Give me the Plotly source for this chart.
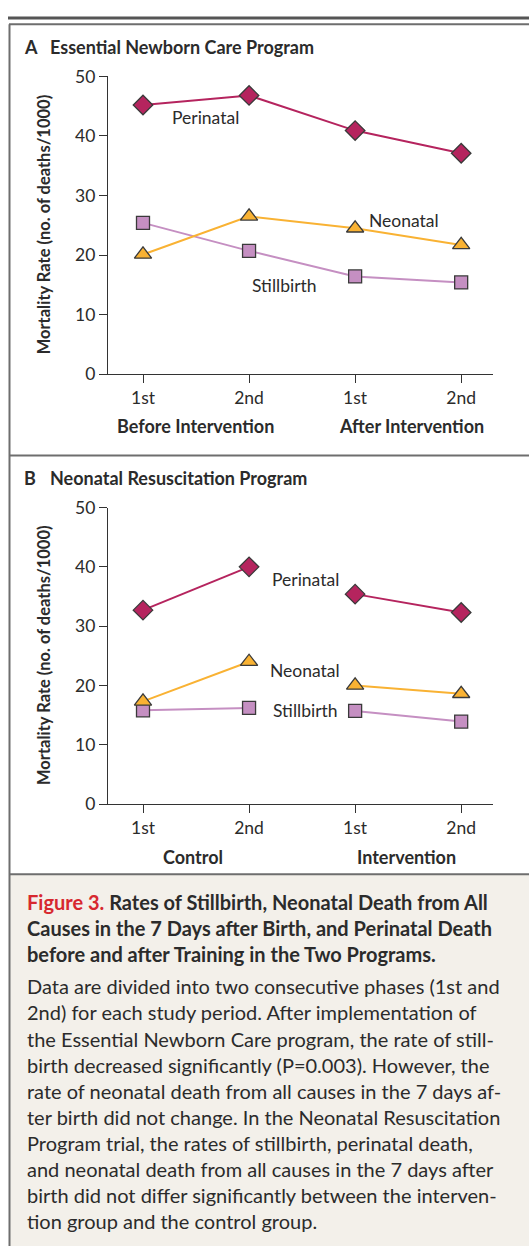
import plotly.graph_objects as go

# ---------------- data ----------------
phases = [0, 1, 2, 3]
tick_labels = ["1st", "2nd", "1st", "2nd"]

a_perinatal = [45.2, 46.8, 40.9, 37.1]
a_neonatal = [20.1, 26.5, 24.5, 21.7]
a_stillbirth = [25.4, 20.7, 16.4, 15.4]

b_perinatal = [32.7, 40.0, 35.4, 32.3]
b_neonatal = [17.3, 24.0, 20.0, 18.6]
b_stillbirth = [15.8, 16.2, 15.7, 13.9]

a_groups = ["Before Intervention", "After Intervention"]
b_groups = ["Control", "Intervention"]

W, H = 529, 1256
FONT = "Lato"
TXT = "#2b2b2b"

def fx(px):
    return px / W

def fy(py):
    return 1 - py / H

C_PER = "#b5245e"
C_NEO = "#f9b233"
C_STI = "#c58fc2"
EDGE = "#3a3a3a"

fig = go.Figure()

def add_series(vals, color, symbol, size, xa, ya, split=False):
    xs, ys = list(phases), list(vals)
    if split:  # panel B: control and intervention drawn as separate segments
        xs = xs[:2] + [None] + xs[2:]
        ys = ys[:2] + [None] + ys[2:]
    fig.add_trace(go.Scatter(
        x=xs, y=ys, mode="lines+markers", connectgaps=False,
        line=dict(color=color, width=2),
        marker=dict(symbol=symbol, size=size, color=color,
                    line=dict(color=EDGE, width=1.3)),
        xaxis=xa, yaxis=ya, showlegend=False, hoverinfo="skip"))

# Panel A
add_series(a_stillbirth, C_STI, "square", 13, "x", "y")
add_series(a_neonatal, C_NEO, "triangle-up", 15, "x", "y")
add_series(a_perinatal, C_PER, "diamond", 15, "x", "y")
# Panel B
add_series(b_stillbirth, C_STI, "square", 13, "x2", "y2", split=True)
add_series(b_neonatal, C_NEO, "triangle-up", 15, "x2", "y2", split=True)
add_series(b_perinatal, C_PER, "diamond", 15, "x2", "y2", split=True)

xrange = [-0.33, 3.30]
axis_common = dict(showgrid=False, zeroline=False, showline=True,
                   linecolor="#333", linewidth=1.3, ticks="outside",
                   ticklen=8, tickwidth=1.3, tickcolor="#333",
                   tickfont=dict(family=FONT, size=17.5, color=TXT))

fig.update_layout(
    width=W, height=H,
    margin=dict(l=0, r=0, t=0, b=0),
    paper_bgcolor="white", plot_bgcolor="rgba(0,0,0,0)",
    xaxis=dict(domain=[fx(108), fx(493)], range=xrange, anchor="y",
               tickvals=phases, ticktext=tick_labels, **axis_common),
    yaxis=dict(domain=[fy(369.3), fy(66.5)], range=[0, 50], anchor="x",
               tickvals=[0, 10, 20, 30, 40, 50], **axis_common),
    xaxis2=dict(domain=[fx(108), fx(493)], range=xrange, anchor="y2",
                tickvals=phases, ticktext=tick_labels, **axis_common),
    yaxis2=dict(domain=[fy(806.5), fy(505)], range=[0, 50], anchor="x2",
                tickvals=[0, 10, 20, 30, 40, 50], **axis_common),
)

shapes = []
# top heavy rule
shapes.append(dict(type="line", xref="paper", yref="paper",
                   x0=fx(8), x1=1, y0=fy(7), y1=fy(7),
                   line=dict(color="#555", width=3)))
# caption background
shapes.append(dict(type="rect", xref="paper", yref="paper",
                   x0=fx(9), x1=1, y0=0, y1=fy(878), layer="below",
                   fillcolor="#f3f0ea", line=dict(width=0)))
# frame lines
for py in [13.5, 452, 878]:
    shapes.append(dict(type="line", xref="paper", yref="paper",
                       x0=fx(9), x1=1, y0=fy(py), y1=fy(py),
                       line=dict(color="#6e6e6e", width=2)))
shapes.append(dict(type="line", xref="paper", yref="paper",
                   x0=fx(9.5), x1=fx(9.5), y0=0, y1=fy(13.5),
                   line=dict(color="#6e6e6e", width=2)))
fig.update_layout(shapes=shapes)

ann = []
def text(px, py, s, size=16, bold=False, color=TXT, xanchor="center",
         angle=0, family=FONT):
    ann.append(dict(x=fx(px), y=fy(py), xref="paper", yref="paper",
                    text=("<b>%s</b>" % s) if bold else s, showarrow=False,
                    xanchor=xanchor, yanchor="middle", textangle=angle,
                    font=dict(family=family, size=size, color=color)))

# panel titles
text(22, 37, "A", 18, True, xanchor="left")
text(48, 37, "Essential Newborn Care Program", 18, True, xanchor="left")
text(22, 475, "B", 18, True, xanchor="left")
text(48, 475, "Neonatal Resuscitation Program", 18, True, xanchor="left")

# y axis titles
text(44, 217, "Mortality Rate (no. of deaths/1000)", 16.5, True, angle=-90)
text(44, 655, "Mortality Rate (no. of deaths/1000)", 16.5, True, angle=-90)

# group labels
text(195.5, 422, a_groups[0], 18, True)
text(411.5, 422, a_groups[1], 18, True)
text(193, 860, b_groups[0], 18, True)
text(406.5, 860, b_groups[1], 18, True)

# in-plot series labels
def dlabel(xv, yv, s, xa, ya):
    ann.append(dict(x=xv, y=yv, xref=xa, yref=ya, text=s, showarrow=False,
                    xanchor="center", yanchor="middle",
                    font=dict(family=FONT, size=17.5, color=TXT)))

dlabel(0.59, 43.1, "Perinatal", "x", "y")
dlabel(2.46, 25.85, "Neonatal", "x", "y")
dlabel(1.33, 14.9, "Stillbirth", "x", "y")
dlabel(1.53, 37.9, "Perinatal", "x2", "y2")
dlabel(1.53, 22.6, "Neonatal", "x2", "y2")
dlabel(1.53, 15.8, "Stillbirth", "x2", "y2")

# caption
CAP = 20
text(25, 906, "<span style='color:#d7282f'>Figure 3.</span> Rates of Stillbirth, Neonatal Death from All",
     CAP, True, xanchor="left")
text(25, 932.5, "Causes in the 7 Days after Birth, and Perinatal Death", CAP, True, xanchor="left")
text(25, 959, "before and after Training in the Two Programs.", CAP, True, xanchor="left")

body = [
    "Data are divided into two consecutive phases (1st and",
    "2nd) for each study period. After implementation of",
    "the Essential Newborn Care program, the rate of still-",
    "birth decreased significantly (P=0.003). However, the",
    "rate of neonatal death from all causes in the 7 days af-",
    "ter birth did not change. In the Neonatal Resuscitation",
    "Program trial, the rates of stillbirth, perinatal death,",
    "and neonatal death from all causes in the 7 days after",
    "birth did not differ significantly between the interven-",
    "tion group and the control group.",
]
for i, line in enumerate(body):
    text(25, 992 + i * 26.5, line, CAP, False, xanchor="left")

fig.update_layout(annotations=ann)
fig.write_html("out.html", config={"displayModeBar": False},
               post_script="document.body.style.margin='0';")
